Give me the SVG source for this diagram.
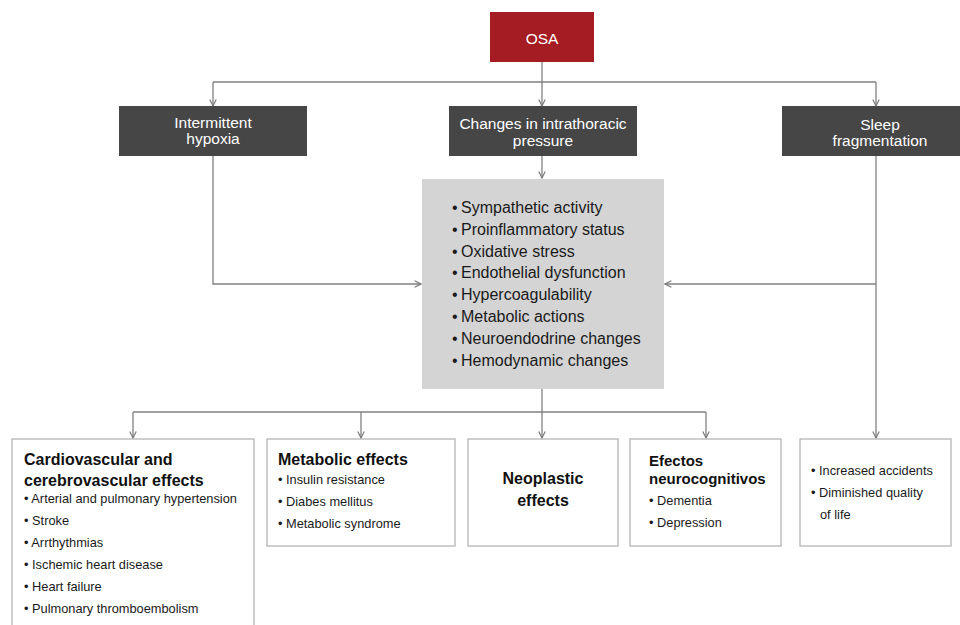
<svg xmlns="http://www.w3.org/2000/svg" width="960" height="625" viewBox="0 0 960 625">
<defs>
<marker id="arr" viewBox="0 0 10 10" refX="9" refY="5" markerWidth="8" markerHeight="8" markerUnits="userSpaceOnUse" orient="auto">
<path d="M1,1 L9,5 L1,9" fill="none" stroke="#7a7a7a" stroke-width="1.5"/>
</marker>
<style>
.ln{fill:none;stroke:#808080;stroke-width:1.3}
.dark{fill:#464646}
.wt{font-family:"Liberation Sans",Arial,sans-serif;font-size:15.5px;fill:#ffffff;text-anchor:middle}
.gt{font-family:"Liberation Sans",Arial,sans-serif;font-size:16px;fill:#1a1a1a}
.box{fill:#ffffff;stroke:#b5b5b5;stroke-width:1.3}
.hd{font-family:"Liberation Sans",Arial,sans-serif;font-size:16px;font-weight:bold;fill:#111}
.it{font-family:"Liberation Sans",Arial,sans-serif;font-size:12.8px;fill:#1a1a1a}
</style>
</defs>
<rect width="960" height="625" fill="#ffffff"/>
<g id="connectors">
<path class="ln" d="M542,62 V82"/>
<path class="ln" d="M213,82 H876"/>
<path class="ln" d="M213,82 V106" marker-end="url(#arr)"/>
<path class="ln" d="M542,82 V106" marker-end="url(#arr)"/>
<path class="ln" d="M876,82 V106" marker-end="url(#arr)"/>
<path class="ln" d="M542,156 V178" marker-end="url(#arr)"/>
<path class="ln" d="M213,156 V284 H421" marker-end="url(#arr)"/>
<path class="ln" d="M876,156 V438" marker-end="url(#arr)"/>
<path class="ln" d="M876,284 H665" marker-end="url(#arr)"/>
<path class="ln" d="M542,389 V412"/>
<path class="ln" d="M133,412 H706"/>
<path class="ln" d="M133,412 V438" marker-end="url(#arr)"/>
<path class="ln" d="M361,412 V438" marker-end="url(#arr)"/>
<path class="ln" d="M542,412 V438" marker-end="url(#arr)"/>
<path class="ln" d="M706,412 V438" marker-end="url(#arr)"/>
</g>
<g id="osa">
<rect x="490" y="12" width="104" height="50" fill="#a51c22"/>
<text class="wt" x="542" y="44">OSA</text>
</g>
<g id="hypoxia">
<rect class="dark" x="119" y="106" width="188" height="50"/>
<text class="wt" x="213" y="128">Intermittent</text>
<text class="wt" x="213" y="144">hypoxia</text>
</g>
<g id="pressure">
<rect class="dark" x="449" y="106" width="188" height="50"/>
<text class="wt" x="543" y="129">Changes in intrathoracic</text>
<text class="wt" x="543" y="146">pressure</text>
</g>
<g id="sleep">
<rect class="dark" x="782" y="106" width="178" height="50"/>
<text class="wt" x="880" y="130">Sleep</text>
<text class="wt" x="880" y="146">fragmentation</text>
</g>
<g id="mechanisms">
<rect x="422" y="179" width="242" height="210" fill="#d4d4d4"/>
<text class="gt" x="452" y="213">•</text><text class="gt" x="461" y="213">Sympathetic activity</text>
<text class="gt" x="452" y="235">•</text><text class="gt" x="461" y="235">Proinflammatory status</text>
<text class="gt" x="452" y="257">•</text><text class="gt" x="461" y="257">Oxidative stress</text>
<text class="gt" x="452" y="278">•</text><text class="gt" x="461" y="278">Endothelial dysfunction</text>
<text class="gt" x="452" y="300">•</text><text class="gt" x="461" y="300">Hypercoagulability</text>
<text class="gt" x="452" y="322">•</text><text class="gt" x="461" y="322">Metabolic actions</text>
<text class="gt" x="452" y="344">•</text><text class="gt" x="461" y="344">Neuroendodrine changes</text>
<text class="gt" x="452" y="366">•</text><text class="gt" x="461" y="366">Hemodynamic changes</text>
</g>
<g id="cardio">
<rect class="box" x="12" y="439" width="242" height="200"/>
<text class="hd" x="24" y="465">Cardiovascular and</text>
<text class="hd" x="24" y="486">cerebrovascular effects</text>
<text class="it" x="24" y="503">• Arterial and pulmonary hypertension</text>
<text class="it" x="24" y="525">• Stroke</text>
<text class="it" x="24" y="547">• Arrthythmias</text>
<text class="it" x="24" y="569">• Ischemic heart disease</text>
<text class="it" x="24" y="591">• Heart failure</text>
<text class="it" x="24" y="613">• Pulmonary thromboembolism</text>
</g>
<g id="metabolic">
<rect class="box" x="267" y="439" width="188" height="107"/>
<text class="hd" x="278" y="465">Metabolic effects</text>
<text class="it" x="278" y="484">• Insulin resistance</text>
<text class="it" x="278" y="506">• Diabes mellitus</text>
<text class="it" x="278" y="528">• Metabolic syndrome</text>
</g>
<g id="neoplastic">
<rect class="box" x="468" y="439" width="150" height="107"/>
<text class="hd" x="543" y="484" text-anchor="middle">Neoplastic</text>
<text class="hd" x="543" y="506" text-anchor="middle">effects</text>
</g>
<g id="neuro">
<rect class="box" x="630" y="439" width="151" height="107"/>
<text class="hd" x="649" y="466" style="font-size:15px">Efectos</text>
<text class="hd" x="649" y="484" style="font-size:15px">neurocognitivos</text>
<text class="it" x="649" y="505">• Dementia</text>
<text class="it" x="649" y="527">• Depression</text>
</g>
<g id="sleepeffects">
<rect class="box" x="800" y="439" width="151" height="107"/>
<text class="it" x="811" y="475">• Increased accidents</text>
<text class="it" x="811" y="497">• Diminished quality</text>
<text class="it" x="820" y="519">of life</text>
</g>
</svg>
